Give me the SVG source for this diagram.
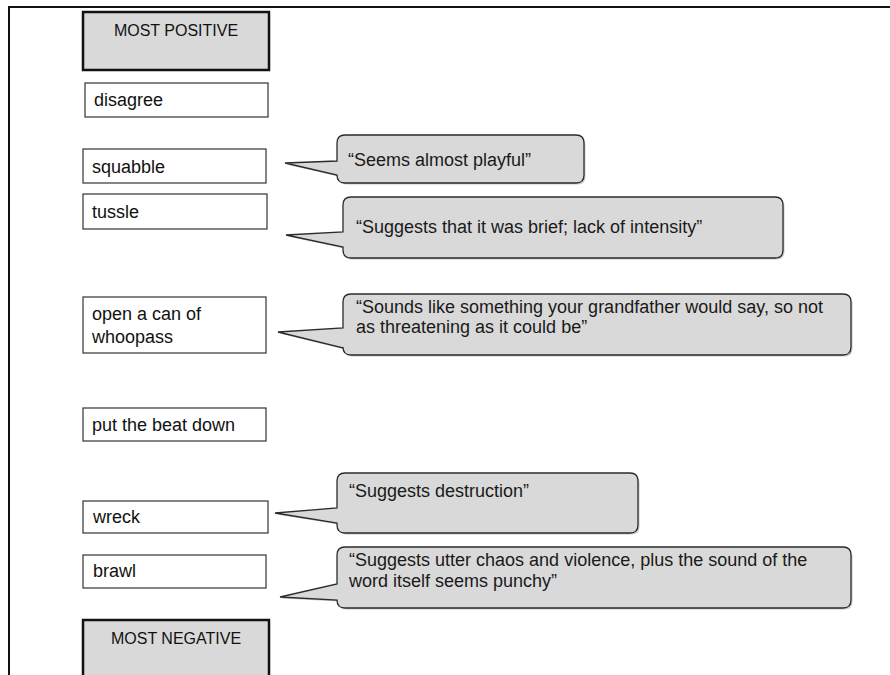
<svg xmlns="http://www.w3.org/2000/svg" width="890" height="675" viewBox="0 0 890 675">
<style>
.frame{fill:none;stroke:#111;stroke-width:2}
.word{fill:#fff;stroke:#333;stroke-width:1.2}
.pole{fill:#d9d9d9;stroke:#111;stroke-width:2.5}
.call{fill:#d9d9d9;stroke:#2b2b2b;stroke-width:1.3}
.shadow{fill:#a6a6a6;opacity:0.6}
.wt{font-family:"Liberation Sans",Arial,sans-serif;font-size:18px;fill:#111}
.pt{font-family:"Liberation Sans",Arial,sans-serif;font-size:16px;fill:#111;text-anchor:middle}
.ct{font-family:"Liberation Sans",Arial,sans-serif;font-size:18px;fill:#1a1a1a}
</style>
<rect width="890" height="675" fill="#fff"/>
<g id="frame">
<path d="M9,675 V7 H890" class="frame"/>
</g>
<g id="n-most-positive"><rect x="83" y="12" width="186" height="58" class="pole"/><text x="176" y="36" class="pt">MOST POSITIVE</text></g>
<g id="n-disagree"><rect x="85" y="83" width="183" height="34" class="word"/><text x="94" y="106" class="wt">disagree</text></g>
<g id="n-squabble"><rect x="83" y="149" width="183" height="34" class="word"/><text x="92" y="172.5" class="wt">squabble</text></g>
<g id="n-tussle"><rect x="83" y="194" width="184" height="35" class="word"/><text x="92" y="218" class="wt">tussle</text></g>
<g id="n-whoopass"><rect x="83" y="297" width="183" height="56" class="word"/><text x="92" y="320" class="wt">open a can of</text><text x="92" y="343" class="wt">whoopass</text></g>
<g id="n-beat-down"><rect x="83" y="408" width="183" height="33" class="word"/><text x="92" y="431" class="wt">put the beat down</text></g>
<g id="n-wreck"><rect x="83" y="501" width="185" height="32" class="word"/><text x="93" y="523" class="wt">wreck</text></g>
<g id="n-brawl"><rect x="83" y="555" width="183" height="33" class="word"/><text x="93" y="577" class="wt">brawl</text></g>
<g id="n-most-negative"><rect x="83" y="620" width="186" height="70" class="pole"/><text x="176" y="644" class="pt">MOST NEGATIVE</text></g>
<g id="connectors">
<g id="c-squabble">
<path transform="translate(1.5,1.5)" class="shadow" d="M345,135 H576 Q584,135 584,143 V175 Q584,183 576,183 H345 Q337,183 337,175 L285,163 L337,161 V143 Q337,135 345,135 Z"/>
<path class="call" d="M345,135 H576 Q584,135 584,143 V175 Q584,183 576,183 H345 Q337,183 337,175 L285,163 L337,161 V143 Q337,135 345,135 Z"/>
<text x="348" y="165.5" class="ct">“Seems almost playful”</text>
</g>
<g id="c-tussle">
<path transform="translate(1.5,1.5)" class="shadow" d="M351,197 H775 Q783,197 783,205 V250 Q783,258 775,258 H351 Q343,258 343,250 V247 L286,235 L343,232 V205 Q343,197 351,197 Z"/>
<path class="call" d="M351,197 H775 Q783,197 783,205 V250 Q783,258 775,258 H351 Q343,258 343,250 V247 L286,235 L343,232 V205 Q343,197 351,197 Z"/>
<text x="356" y="233" class="ct">“Suggests that it was brief; lack of intensity”</text>
</g>
<g id="c-whoopass">
<path transform="translate(1.5,1.5)" class="shadow" d="M351,294 H843 Q851,294 851,302 V347 Q851,355 843,355 H351 Q343,355 343,347 V348 L278,332 L343,328 V302 Q343,294 351,294 Z"/>
<path class="call" d="M351,294 H843 Q851,294 851,302 V347 Q851,355 843,355 H351 Q343,355 343,347 V348 L278,332 L343,328 V302 Q343,294 351,294 Z"/>
<text x="356" y="312.5" class="ct">“Sounds like something your grandfather would say, so not</text>
<text x="356" y="333" class="ct">as threatening as it could be”</text>
</g>
<g id="c-wreck">
<path transform="translate(1.5,1.5)" class="shadow" d="M345,473 H630 Q638,473 638,481 V525 Q638,533 630,533 H345 Q337,533 337,525 V523 L275,513 L337,508 V481 Q337,473 345,473 Z"/>
<path class="call" d="M345,473 H630 Q638,473 638,481 V525 Q638,533 630,533 H345 Q337,533 337,525 V523 L275,513 L337,508 V481 Q337,473 345,473 Z"/>
<text x="349" y="497" class="ct">“Suggests destruction”</text>
</g>
<g id="c-brawl">
<path transform="translate(1.5,1.5)" class="shadow" d="M345,547 H843 Q851,547 851,555 V600 Q851,608 843,608 H345 Q337,608 337,600 L280,597 L337,584 V555 Q337,547 345,547 Z"/>
<path class="call" d="M345,547 H843 Q851,547 851,555 V600 Q851,608 843,608 H345 Q337,608 337,600 L280,597 L337,584 V555 Q337,547 345,547 Z"/>
<text x="349" y="566" class="ct">“Suggests utter chaos and violence, plus the sound of the</text>
<text x="349" y="587" class="ct">word itself seems punchy”</text>
</g>
</g>
</svg>
